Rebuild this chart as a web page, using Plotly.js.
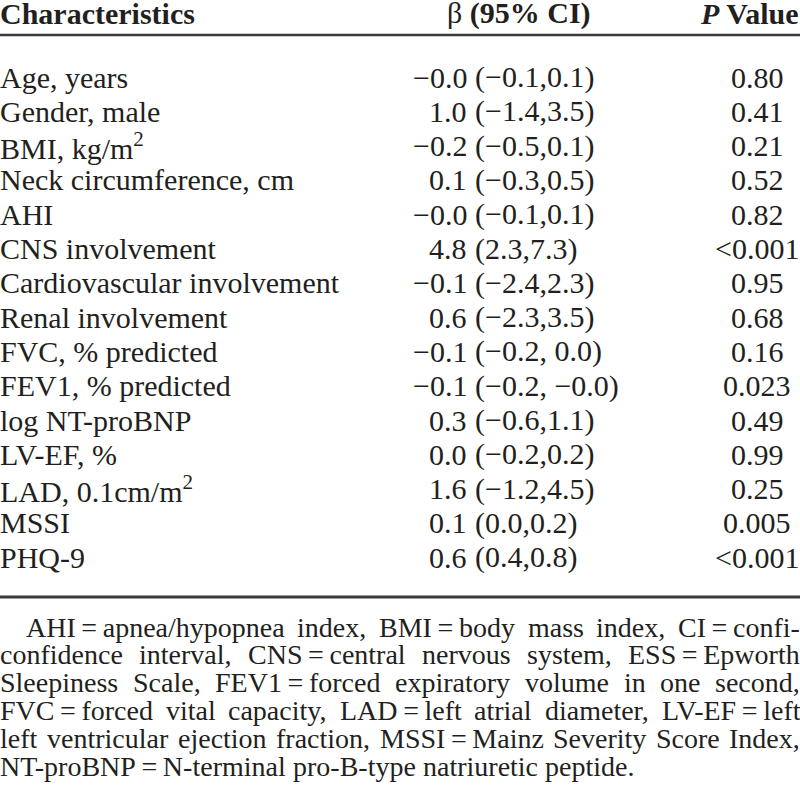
<!DOCTYPE html>
<html>
<head>
<meta charset="utf-8">
<script src="https://cdn.plot.ly/plotly-3.0.1.min.js"></script>
<style>
  html, body { margin: 0; padding: 0; background: #ffffff; }
  #chart { width: 800px; height: 801px; }
</style>
</head>
<body>
<div id="chart"></div>
<script>
// ---- data ----
const headers = ["<b>Characteristics</b>", "β <b>(95% CI)</b>", "<b><i>P</i> Value</b>"];
const characteristics = [
  "Age, years", "Gender, male", "BMI, kg/m<sup>2</sup>", "Neck circumference, cm", "AHI",
  "CNS involvement", "Cardiovascular involvement", "Renal involvement", "FVC, % predicted",
  "FEV1, % predicted", "log NT-proBNP", "LV-EF, %", "LAD, 0.1cm/m<sup>2</sup>", "MSSI", "PHQ-9"
];
const beta = ["−0.0", "1.0", "−0.2", "0.1", "−0.0", "4.8", "−0.1", "0.6", "−0.1", "−0.1", "0.3", "0.0", "1.6", "0.1", "0.6"];
const ci = ["(−0.1,0.1)", "(−1.4,3.5)", "(−0.5,0.1)", "(−0.3,0.5)", "(−0.1,0.1)", "(2.3,7.3)", "(−2.4,2.3)",
  "(−2.3,3.5)", "(−0.2, 0.0)", "(−0.2, −0.0)", "(−0.6,1.1)", "(−0.2,0.2)", "(−1.2,4.5)", "(0.0,0.2)", "(0.4,0.8)"];
const pValues = ["0.80", "0.41", "0.21", "0.52", "0.82", "<0.001", "0.95", "0.68", "0.16", "0.023", "0.49", "0.99", "0.25", "0.005", "<0.001"];
const footnoteLines = [
  "AHI\u2009=\u2009apnea/hypopnea index, BMI\u2009=\u2009body mass index, CI\u2009=\u2009confi-",
  "confidence interval, CNS\u2009=\u2009central nervous system, ESS\u2009=\u2009Epworth",
  "Sleepiness Scale, FEV1\u2009=\u2009forced expiratory volume in one second,",
  "FVC\u2009=\u2009forced vital capacity, LAD\u2009=\u2009left atrial diameter, LV-EF\u2009=\u2009left",
  "left ventricular ejection fraction, MSSI\u2009=\u2009Mainz Severity Score Index,",
  "NT-proBNP\u2009=\u2009N-terminal pro-B-type natriuretic peptide."
];

// ---- layout parameters ----
const W = 800, H = 801;
const FONT = "'Liberation Serif', 'Times New Roman', serif";
const INK = "#231f20";
const bodySize = 30, noteSize = 28;
const headerY = 13;
const rowY0 = 77, rowPitch = 34.3;
const betaRightX = 467, ciLeftX = 475, pCenterX = 757;
const noteY0 = 627, notePitch = 27.9, noteIndent = 26;

const ann = [];
function t(x, y, text, anchor, size) {
  ann.push({x: x, y: y, xref: "x", yref: "y", text: text, showarrow: false,
    xanchor: anchor, yanchor: "middle", borderpad: 0, borderwidth: 0,
    font: {family: FONT, size: size || bodySize, color: INK}});
}

// headers
t(0, headerY, headers[0], "left");
t(519, headerY, headers[1], "center");
t(799, headerY, headers[2], "right");

// rows
characteristics.forEach(function (c, i) {
  const y = rowY0 + i * rowPitch;
  t(0, y, c, "left");
  t(betaRightX, y, beta[i], "right");
  t(ciLeftX, y, ci[i], "left");
  t(pCenterX, y, pValues[i], "center");
});

// footnote, justified with measured word widths
const cv = document.createElement("canvas").getContext("2d");
cv.font = noteSize + "px 'Liberation Serif'";
footnoteLines.forEach(function (line, i) {
  const y = noteY0 + i * notePitch;
  const x0 = i === 0 ? noteIndent : 0;
  const words = line.split(" ");
  const widths = words.map(function (w) { return cv.measureText(w).width; });
  const total = widths.reduce(function (a, b) { return a + b; }, 0);
  const last = i === footnoteLines.length - 1;
  const gap = last ? cv.measureText(" ").width : (W - x0 - total) / (words.length - 1);
  let x = x0;
  words.forEach(function (w, k) {
    t(x, y, w, "left", noteSize);
    x += widths[k] + gap;
  });
});

const shapes = [
  {type: "line", xref: "x", yref: "y", x0: 0, x1: W, y0: 35, y1: 35, line: {color: "#3a3a3a", width: 2.5}},
  {type: "line", xref: "x", yref: "y", x0: 0, x1: W, y0: 597, y1: 597, line: {color: "#3a3a3a", width: 3}}
];

const layout = {
  width: W, height: H,
  margin: {l: 0, r: 0, t: 0, b: 0},
  paper_bgcolor: "#ffffff", plot_bgcolor: "#ffffff",
  showlegend: false,
  xaxis: {range: [0, W], visible: false, fixedrange: true},
  yaxis: {range: [H, 0], visible: false, fixedrange: true},
  annotations: ann,
  shapes: shapes
};
Plotly.newPlot("chart", [], layout, {staticPlot: true, displayModeBar: false});
</script>
</body>
</html>
